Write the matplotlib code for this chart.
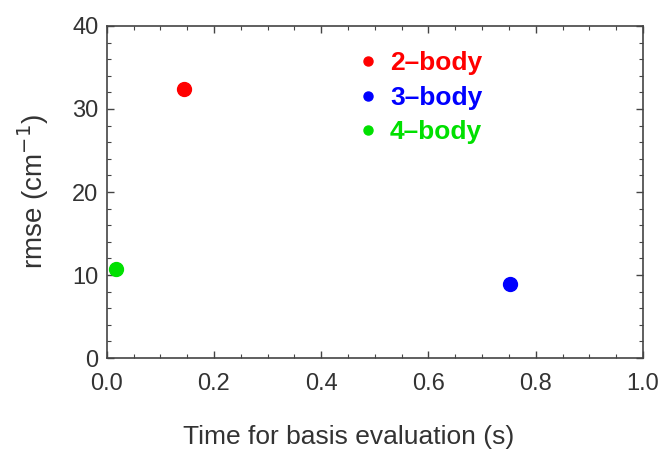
import matplotlib.pyplot as plt
from matplotlib.ticker import MultipleLocator

plt.rcParams["font.family"] = ["Liberation Sans", "DejaVu Sans"]

# data
labels = ["2\u2013body", "3\u2013body", "4\u2013body"]
times = [0.144, 0.752, 0.017]
rmse = [32.4, 8.9, 10.7]
colors = ["#ff0000", "#0000ff", "#00e000"]

fig = plt.figure(figsize=(6.67, 4.55), dpi=100)
ax = fig.add_axes([0.160, 0.213, 0.804, 0.730])

for t, r, c, lab in zip(times, rmse, colors, labels):
    ax.plot([t], [r], "o", color=c, markersize=10, label=lab, clip_on=False)

ax.set_xlim(0, 1.0)
ax.set_ylim(0, 40)
ax.xaxis.set_major_locator(MultipleLocator(0.2))
ax.xaxis.set_minor_locator(MultipleLocator(0.05))
ax.yaxis.set_major_locator(MultipleLocator(10))
ax.yaxis.set_minor_locator(MultipleLocator(2))
ax.xaxis.set_major_formatter(plt.FormatStrFormatter("%.1f"))

ax.tick_params(which="both", direction="in", top=True, right=True,
               colors="#444444", labelcolor="#333333", labelsize=17)
ax.tick_params(which="major", length=5, width=1)
ax.tick_params(which="minor", length=3, width=0.8)
ax.tick_params(axis="x", pad=11)
ax.tick_params(axis="y", pad=6)
for s in ax.spines.values():
    s.set_color("#444444")
    s.set_linewidth(1.2)

ax.set_xlabel("Time for basis evaluation (s)", fontsize=19, color="#333333", labelpad=21)
ax.xaxis.label.set_x(0.451)
ax.set_ylabel("rmse (cm$^{-1}$)", fontsize=20, color="#333333", labelpad=15)

leg = ax.legend(loc="upper left", bbox_to_anchor=(0.43, 0.995), frameon=False,
                markerscale=0.65, handlelength=0.5, handletextpad=0.6,
                labelspacing=0.4, labelcolor="linecolor",
                prop={"weight": "bold", "size": 19})

fig.savefig("out.png", dpi=100)
